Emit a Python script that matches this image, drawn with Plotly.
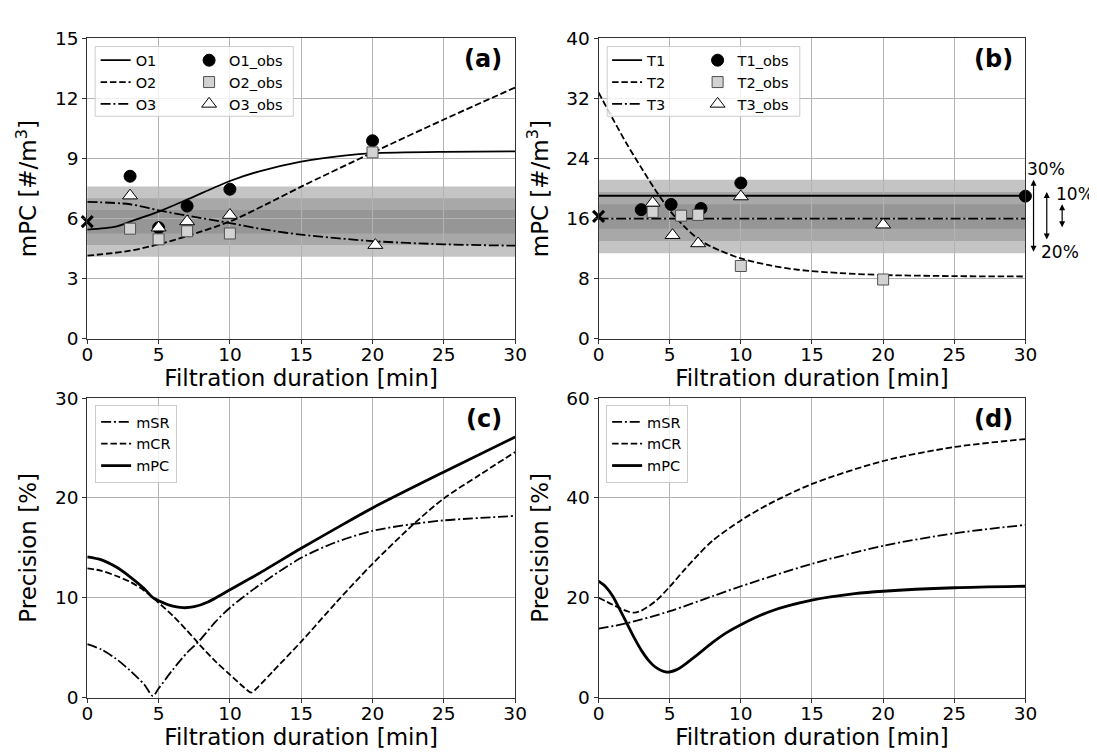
import plotly.graph_objects as go

# ---------------- data ----------------
# panel (a) model curves
O1_t = [0, 2, 3, 5, 7, 10, 12, 15, 18, 20, 25, 30]
O1_v = [5.45, 5.6, 5.85, 6.35, 6.95, 7.88, 8.35, 8.85, 9.15, 9.27, 9.34, 9.36]
O2_t = [0, 3, 5, 7, 10, 12.5, 15, 20, 25, 30]
O2_v = [4.15, 4.4, 4.72, 5.13, 5.86, 6.7, 7.6, 9.3, 10.95, 12.55]
O3_t = [0, 3, 5, 7, 10, 12.5, 15, 20, 25, 30]
O3_v = [6.84, 6.72, 6.42, 6.15, 5.78, 5.45, 5.2, 4.88, 4.72, 4.65]
# panel (a) observations
O1_obs_t = [3, 5, 7, 10, 20]
O1_obs_v = [8.12, 5.55, 6.63, 7.47, 9.89]
O2_obs_t = [3, 5, 7, 10, 20]
O2_obs_v = [5.5, 4.97, 5.37, 5.26, 9.31]
O3_obs_t = [3, 5, 7, 10, 20.2]
O3_obs_v = [7.15, 5.55, 5.86, 6.18, 4.68]
a_center = 5.85

# panel (b) model curves
T1_t = [0, 30]
T1_v = [19.05, 19.05]
T2_t = [0, 1, 2, 3, 4, 5, 6, 7, 8, 10, 12, 14, 17, 20, 25, 30]
T2_v = [32.8, 29.3, 25.9, 22.8, 19.8, 17.1, 15.0, 13.3, 12.2, 10.7, 9.8, 9.2, 8.75, 8.5, 8.35, 8.3]
T3_t = [0, 30]
T3_v = [16.0, 16.0]
# panel (b) observations
T1_obs_t = [3.0, 5.1, 7.2, 10, 30]
T1_obs_v = [17.2, 17.9, 17.35, 20.75, 19.0]
T2_obs_t = [3.8, 5.8, 7.0, 10, 20]
T2_obs_v = [16.9, 16.4, 16.5, 9.7, 7.9]
T3_obs_t = [3.8, 5.2, 7.0, 10, 20]
T3_obs_v = [18.1, 13.8, 12.7, 18.95, 15.2]
b_center = 16.3

band_pct = [30, 20, 10]
band_colors = ["rgb(196,196,196)", "rgb(168,168,168)", "rgb(150,150,150)"]

# panel (c) precision
c_mSR_t = [0, 1, 2, 3, 4, 4.6, 5, 6, 7, 7.8, 9, 10, 12, 15, 17.5, 20, 22.9, 25, 30]
c_mSR_v = [5.35, 4.8, 3.9, 2.7, 1.3, 0.15, 0.9, 2.8, 4.5, 5.6, 7.6, 9.0, 11.2, 14.0, 15.6, 16.7, 17.4, 17.75, 18.2]
c_mCR_t = [0, 1, 2, 3, 4, 4.6, 5, 6, 7, 7.6, 8, 9, 10, 11, 11.5, 12, 13, 15, 17.5, 20, 22.9, 25, 27.5, 30]
c_mCR_v = [12.95, 12.7, 12.2, 11.6, 10.7, 10.0, 9.5, 8.2, 6.7, 5.75, 5.1, 3.6, 2.3, 1.0, 0.5, 1.1, 2.6, 5.6, 9.6, 13.4, 17.4, 19.95, 22.3, 24.6]
c_mPC_t = [0, 1, 2, 3, 4, 4.6, 5, 6, 6.7, 7.5, 8.5, 9.4, 10, 12, 15, 17.5, 20, 25, 30]
c_mPC_v = [14.1, 13.8, 13.1, 12.1, 10.9, 10.0, 9.7, 9.15, 9.0, 9.1, 9.6, 10.3, 10.8, 12.4, 14.95, 17.0, 19.0, 22.6, 26.1]

# panel (d) precision
d_mSR_t = [0, 2, 5, 8, 10, 15, 20, 25, 30]
d_mSR_v = [13.8, 14.9, 17.3, 20.3, 22.3, 26.8, 30.4, 32.9, 34.6]
d_mCR_t = [0, 1, 2, 2.5, 3, 4, 5, 6, 7, 8, 10, 12, 15, 20, 25, 30]
d_mCR_v = [20.0, 18.6, 17.3, 17.0, 17.4, 19.3, 22.2, 25.5, 28.6, 31.4, 35.5, 38.8, 42.8, 47.4, 50.2, 51.8]
d_mPC_t = [0, 0.5, 1, 1.5, 2, 2.5, 3, 3.5, 4, 4.8, 5.5, 6, 6.5, 7, 8, 9, 10, 12, 15, 18, 20, 25, 30]
d_mPC_v = [23.3, 22.2, 20.3, 17.6, 14.8, 12.0, 9.5, 7.5, 6.1, 5.1, 5.6, 6.5, 7.6, 8.7, 11.0, 13.0, 14.6, 17.2, 19.5, 20.8, 21.3, 22.0, 22.3]

x_ticks = [0, 5, 10, 15, 20, 25, 30]
a_yticks = [0, 3, 6, 9, 12, 15]
b_yticks = [0, 8, 16, 24, 32, 40]
c_yticks = [0, 10, 20, 30]
d_yticks = [0, 20, 40, 60]

XTITLE = "Filtration duration [min]"
MPC_TITLE = "mPC [#/m<sup>3</sup>]"
PREC_TITLE = "Precision [%]"

# ---------------- styling ----------------
W, H = 1097, 753
FONT = "DejaVu Sans"
DASH = "6.5px,2.8px"
DASHDOT = "10px,2.8px,2px,2.8px"
LW = 1.8

fig = go.Figure()


def line(t, v, name, dash, ax, legend, width=LW):
    fig.add_trace(go.Scatter(
        x=t, y=v, name=name, mode="lines",
        line=dict(color="black", width=width, dash=dash, shape="spline", smoothing=0.8),
        xaxis="x" + ax, yaxis="y" + ax, legend=legend))


def obs(t, v, name, symbol, fill, edge, ax, legend, size=12):
    fig.add_trace(go.Scatter(
        x=t, y=v, name=name, mode="markers", cliponaxis=False,
        marker=dict(symbol=symbol, size=size, color=fill, line=dict(color=edge, width=1)),
        xaxis="x" + ax, yaxis="y" + ax, legend=legend))


# panel (a)
line(O1_t, O1_v, "O1", "solid", "", "legend")
line(O2_t, O2_v, "O2", DASH, "", "legend")
line(O3_t, O3_v, "O3", DASHDOT, "", "legend")
obs(O1_obs_t, O1_obs_v, "O1_obs", "circle", "black", "black", "", "legend2")
obs(O2_obs_t, O2_obs_v, "O2_obs", "square", "rgb(210,210,210)", "rgb(80,80,80)", "", "legend2", 11)
obs(O3_obs_t, O3_obs_v, "O3_obs", "triangle-up", "white", "black", "", "legend2", 13)
fig.add_trace(go.Scatter(x=[0], y=[a_center], mode="markers", showlegend=False, cliponaxis=False,
                         marker=dict(symbol="x-thin", size=11, line=dict(color="black", width=3)),
                         xaxis="x", yaxis="y"))

# panel (b)
line(T1_t, T1_v, "T1", "solid", "2", "legend3")
line(T2_t, T2_v, "T2", DASH, "2", "legend3")
line(T3_t, T3_v, "T3", DASHDOT, "2", "legend3")
obs(T1_obs_t, T1_obs_v, "T1_obs", "circle", "black", "black", "2", "legend4")
obs(T2_obs_t, T2_obs_v, "T2_obs", "square", "rgb(210,210,210)", "rgb(80,80,80)", "2", "legend4", 11)
obs(T3_obs_t, T3_obs_v, "T3_obs", "triangle-up", "white", "black", "2", "legend4", 13)
fig.add_trace(go.Scatter(x=[0], y=[b_center], mode="markers", showlegend=False, cliponaxis=False,
                         marker=dict(symbol="x-thin", size=11, line=dict(color="black", width=3)),
                         xaxis="x2", yaxis="y2"))

# panel (c)
line(c_mSR_t, c_mSR_v, "mSR", DASHDOT, "3", "legend5")
line(c_mCR_t, c_mCR_v, "mCR", DASH, "3", "legend5")
line(c_mPC_t, c_mPC_v, "mPC", "solid", "3", "legend5", 2.8)
# panel (d)
line(d_mSR_t, d_mSR_v, "mSR", DASHDOT, "4", "legend6")
line(d_mCR_t, d_mCR_v, "mCR", DASH, "4", "legend6")
line(d_mPC_t, d_mPC_v, "mPC", "solid", "4", "legend6", 2.8)

# bands
shapes = []
for ax, c in (("", a_center), ("2", b_center)):
    for p, col in zip(band_pct, band_colors):
        shapes.append(dict(type="rect", xref="x" + ax + " domain", yref="y" + ax,
                           x0=0, x1=1, y0=c * (1 - p / 100), y1=c * (1 + p / 100),
                           fillcolor=col, line=dict(width=0), layer="below"))
# legend frames for the two-column legends
for ax, x0, x1 in (("", 0.0184, 0.4816), ("2", 0.0203, 0.4714)):
    shapes.append(dict(type="rect", xref="x" + ax + " domain", yref="y" + ax + " domain",
                       x0=x0, x1=x1, y0=0.741, y1=0.973,
                       fillcolor="rgba(255,255,255,0.8)", line=dict(color="#cccccc", width=1),
                       layer="above"))

ann = []
for ax, lab in (("", "(a)"), ("2", "(b)"), ("3", "(c)"), ("4", "(d)")):
    ann.append(dict(text="<b>" + lab + "</b>", xref="x" + ax + " domain", yref="y" + ax + " domain",
                    x=0.975, y=0.93, xanchor="right", yanchor="middle", showarrow=False,
                    font=dict(size=24, family=FONT, color="black")))
# precision arrows in (b)
arrow_x = {30: 1.019, 20: 1.050, 10: 1.086}
for p in band_pct:
    ann.append(dict(text="", xref="x2 domain", yref="y2", axref="x2 domain", ayref="y2",
                    x=arrow_x[p], ax=arrow_x[p], y=b_center * (1 + p / 100), ay=b_center * (1 - p / 100),
                    showarrow=True, arrowhead=2, arrowside="end+start", arrowsize=1,
                    arrowwidth=1.2, arrowcolor="black"))
pct_text_pos = {30: (1.048, 22.65), 10: (1.115, 19.3), 20: (1.081, 11.5)}
for p in band_pct:
    xx, yy = pct_text_pos[p]
    ann.append(dict(text=f"{p}%", xref="x2 domain", yref="y2", x=xx, y=yy, showarrow=False,
                    xanchor="center", yanchor="middle", font=dict(size=17, family=FONT, color="black")))

xa = [74.5 / W, 509.5 / W]
xb = [594.3 / W, 1028.3 / W]
ytop = [1 - 329 / H, 1 - 20 / H]
ybot = [1 - 698 / H, 1 - 390 / H]

axis_common = dict(showline=True, linecolor="#333333", linewidth=1, mirror=True,
                   ticks="outside", ticklen=4, tickcolor="#333333",
                   showgrid=True, gridcolor="#b3b3b3", gridwidth=0.8, zeroline=False,
                   tickfont=dict(size=18.5, family=FONT, color="black"))


def xaxis(dom, anchor):
    return dict(axis_common, domain=dom, anchor=anchor, range=[0, 30], tickvals=x_ticks,
                ticklabelstandoff=-5,
                title=dict(text=XTITLE, font=dict(size=23, family=FONT, color="black"), standoff=0))


def yaxis(dom, anchor, rng, tv, title):
    return dict(axis_common, domain=dom, anchor=anchor, range=rng, tickvals=tv,
                title=dict(text=title, font=dict(size=23, family=FONT, color="black"), standoff=11))


leg_common = dict(font=dict(size=14.5, family=FONT, color="black"), xanchor="left", yanchor="top",
                  bgcolor="rgba(0,0,0,0)", borderwidth=0, tracegroupgap=0)
leg_boxed = dict(leg_common, bgcolor="rgba(255,255,255,0.8)", bordercolor="#cccccc", borderwidth=1)

fig.update_layout(
    width=W, height=H, autosize=False,
    margin=dict(l=0, r=0, t=0, b=0),
    paper_bgcolor="white", plot_bgcolor="white",
    font=dict(family=FONT, color="black"),
    xaxis=xaxis(xa, "y"), yaxis=yaxis(ytop, "x", [0, 15], a_yticks, MPC_TITLE),
    xaxis2=xaxis(xb, "y2"), yaxis2=yaxis(ytop, "x2", [0, 40], b_yticks, MPC_TITLE),
    xaxis3=xaxis(xa, "y3"), yaxis3=yaxis(ybot, "x3", [0, 30], c_yticks, PREC_TITLE),
    xaxis4=xaxis(xb, "y4"), yaxis4=yaxis(ybot, "x4", [0, 60], d_yticks, PREC_TITLE),
    legend=dict(leg_common, x=83 / W, y=1 - 26 / H),
    legend2=dict(leg_common, x=178 / W, y=1 - 26 / H),
    legend3=dict(leg_common, x=603 / W, y=1 - 26 / H),
    legend4=dict(leg_common, x=695 / W, y=1 - 26 / H),
    legend5=dict(leg_boxed, x=82.5 / W, y=1 - 397 / H),
    legend6=dict(leg_boxed, x=602 / W, y=1 - 397 / H),
    shapes=shapes, annotations=ann,
)

fig.write_html("out.html")
